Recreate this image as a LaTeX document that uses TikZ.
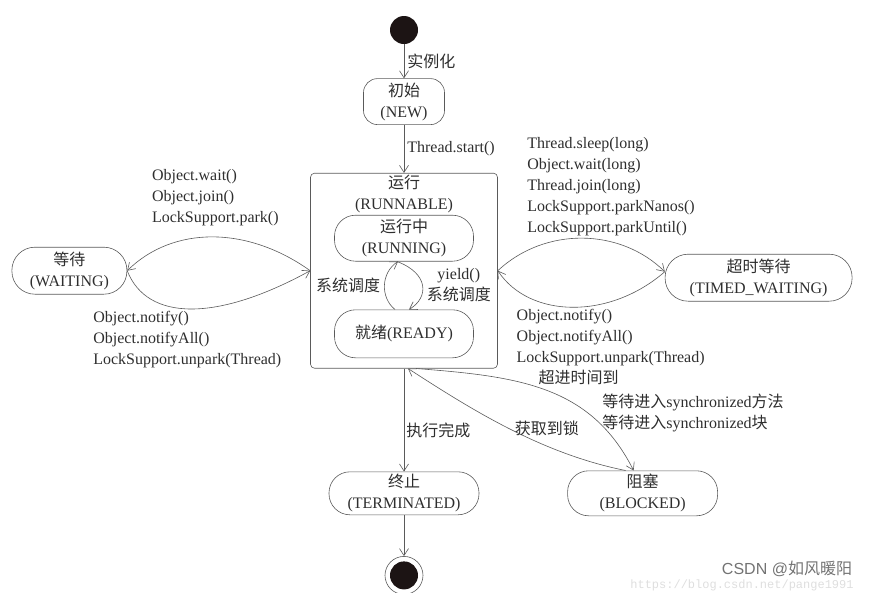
\documentclass[tikz,border=0pt]{standalone}
\usepackage{fontspec}
\setmainfont{Liberation Serif}
\newfontfamily\cjk{Noto Sans CJK SC}
\newfontfamily\wmsans{Liberation Sans}
\newfontfamily\wmmono{Liberation Mono}
\newcommand\zh[1]{{\cjk #1}}
\usepackage{tikz}
\usetikzlibrary{arrows.meta}
\usetikzlibrary{positioning}
\definecolor{ln}{HTML}{5A5A5A}
\definecolor{txt}{HTML}{2E2E2E}
\definecolor{dk}{HTML}{1C1414}

\begin{document}
\begin{tikzpicture}[x=1pt,y=-1pt,node distance=2em,auto,>={Straight Barb[length=7pt,width=9pt]},
  every node/.style={font=\fontsize{16}{21}\selectfont, text=txt},
  st/.style={draw=ln, rounded corners=#1, align=center, inner sep=0pt},
  st/.default=20pt,
  lbl/.style={align=left, inner sep=2pt},
  dot/.style={circle, fill=dk, minimum size=28pt, inner sep=0pt},
  fin/.style={circle, draw=ln, minimum size=38pt, inner sep=0pt,
    path picture={\fill[dk] (path picture bounding box.center) circle (14pt);}},
  color=ln, line width=0.6pt]
\path[use as bounding box] (0,0) rectangle (870,592);
% start and NEW
\path node[dot] at (404,30) (i) {};
\path node[st=14pt, minimum width=81pt, minimum height=46pt, below=34pt of i] (nw) {\zh{初始}\\(NEW)};
\path[->] (i) edge node[right, inner sep=3pt] {\zh{实例化}} (nw);
% RUNNABLE box
\path node[draw=ln, rounded corners=4pt, minimum width=187pt, minimum height=195pt, inner sep=0pt, below=48pt of nw] (rb) {};
\path node[below=0pt of rb.north, align=center, inner sep=2pt] (rbt) {\zh{运行}\\(RUNNABLE)};
\path[->] (nw) edge node[right, inner sep=3pt] {Thread.start()} (rb);
\path node[st=21pt, minimum width=139pt, minimum height=46pt, below=42pt of rb.north] (rn) {\zh{运行中}\\(RUNNING)};
\path node[st=21pt, minimum width=139pt, minimum height=48pt, below=48pt of rn] (rd) {\zh{就绪}(READY)};
\draw[->] ([xshift=-9pt]rd.north) .. controls +(-15,-12) and +(-17,11) .. ([xshift=-6pt]rn.south)
  node[pos=0.5, left, inner sep=4pt] {\zh{系统调度}};
\draw[->] ([xshift=-7pt]rn.south) .. controls +(32,12) and +(20,-12) .. ([xshift=5pt]rd.north)
  node[pos=0.5, right, align=center, inner sep=4pt] {yield()\\\zh{系统调度}};
% WAITING
\path node[st=23pt, minimum width=115pt, minimum height=47pt, left=183pt of rb] (w) {\zh{等待}\\(WAITING)};
\draw[->] (rb.west) .. controls +(-63,-45) and +(46,-45) .. (w.east)
  node[pos=0.5, above, lbl, xshift=3pt, yshift=9pt] {Object.wait()\\Object.join()\\LockSupport.park()};
\draw[->] (w.east) .. controls +(20,51) and +(-93,51) .. (rb.west)
  node[pos=0.5, below, lbl, xshift=-4pt] {Object.notify()\\Object.notifyAll()\\LockSupport.unpark(Thread)};
% TIMED_WAITING
\path node[st=23pt, minimum width=187pt, minimum height=47pt, right=167pt of rb, yshift=-7pt] (tw) {\zh{超时等待}\\(TIMED\_WAITING)};
\draw[->] (rb.east) .. controls +(47,-44) and +(-45,-44) .. ([yshift=6pt]tw.west)
  node[pos=0.5, above, lbl, xshift=29pt] {Thread.sleep(long)\\Object.wait(long)\\Thread.join(long)\\LockSupport.parkNanos()\\LockSupport.parkUntil()};
\draw[->] ([yshift=6pt]tw.west) .. controls +(-55,48) and +(32,48) .. (rb.east)
  node[pos=0.5, below, lbl, xshift=38pt] {Object.notify()\\Object.notifyAll()\\LockSupport.unpark(Thread)\\\hspace*{22pt}\zh{超进时间到}};
% TERMINATED, BLOCKED
\path node[st=21pt, minimum width=150pt, minimum height=43pt, below=103pt of rb] (t) {\zh{终止}\\(TERMINATED)};
\path node[fin, below=41pt of t] (f) {};
\path[->] (rb) edge node[right, pos=0.6, inner sep=2pt] {\zh{执行完成}} (t);
\path[->] (t) edge (f);
\path node[st=21pt, minimum width=150pt, minimum height=45pt, right=88pt of t] (b) {\zh{阻塞}\\(BLOCKED)};
\draw[->] ([xshift=12pt]rb.south) .. controls +(103,8) and +(-43,-85) .. ([xshift=-9pt]b.north)
  node[pos=0.7, right, lbl, xshift=13pt] {\zh{等待进入}synchronized\zh{方法}\\\zh{等待进入}synchronized\zh{块}};
\draw[->] ([xshift=-17pt]b.north) .. controls +(-85,-17) and +(62,40) .. ([xshift=4pt]rb.south)
  node[pos=0.3, above, inner sep=4pt, xshift=-6pt, yshift=8pt] {\zh{获取到锁}};
% watermark
\path node[font=\wmsans\fontsize{16}{18}\selectfont, text=black!55, inner sep=1pt] at (787,569) (wm) {CSDN @\zh{如风暖阳}};
\path node[font=\wmmono\fontsize{12}{14}\selectfont, text=black!13, inner sep=1pt] at (742,585) (url) {https://blog.csdn.net/pange1991};
\end{tikzpicture}
\end{document}
